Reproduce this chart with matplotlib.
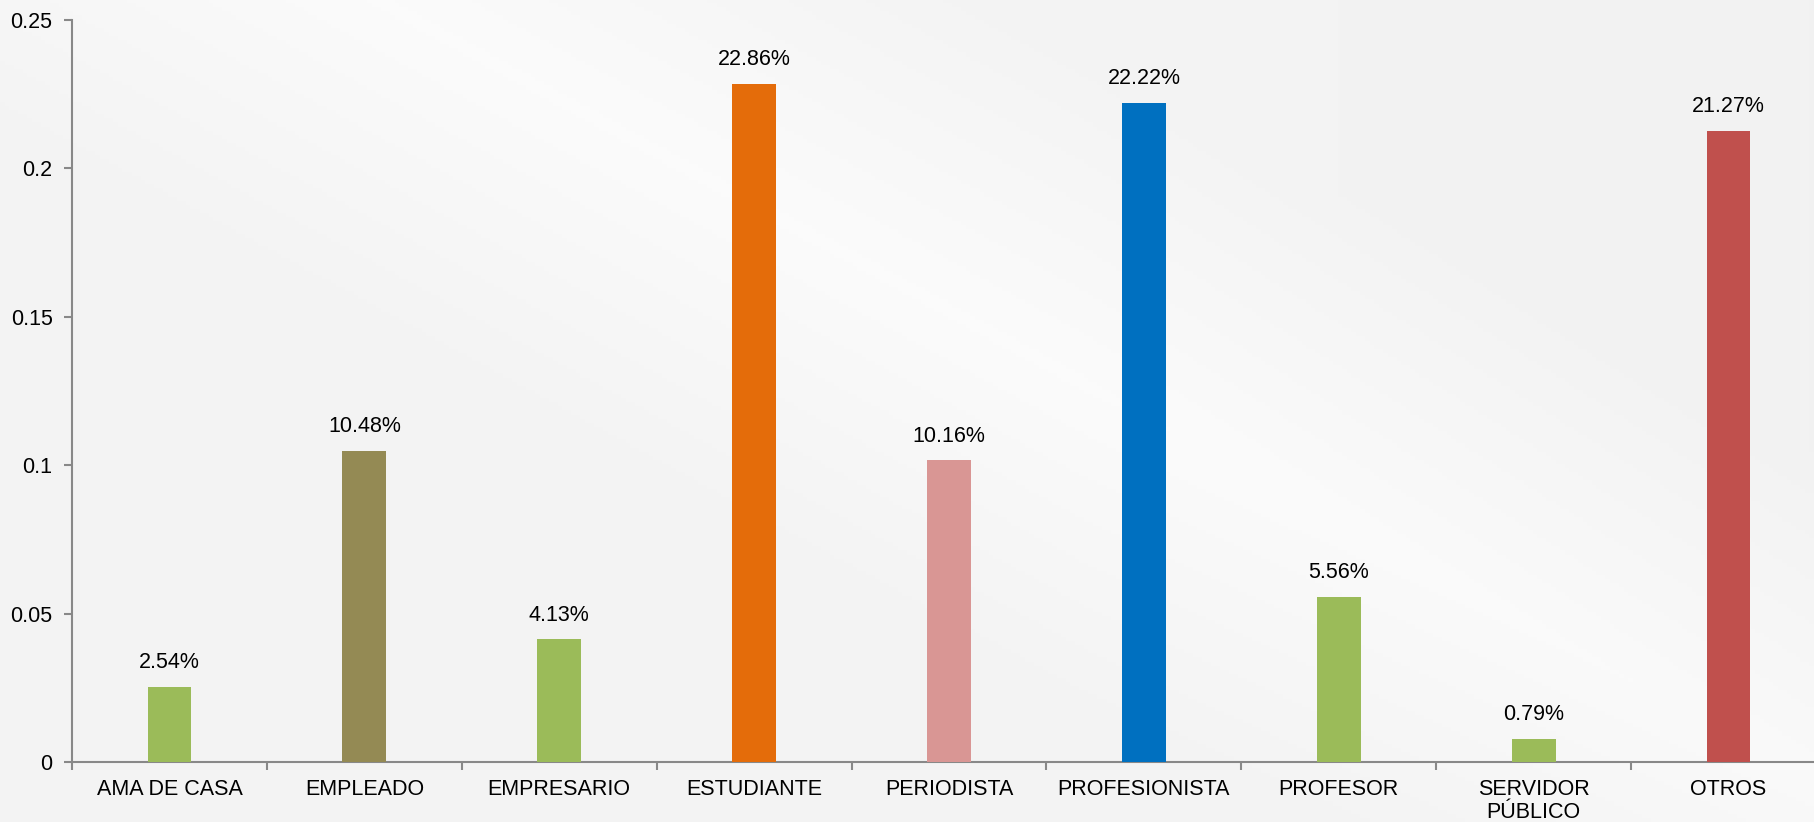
import numpy as np
import matplotlib
matplotlib.use("Agg")
import matplotlib.pyplot as plt
from matplotlib.ticker import FixedLocator, FixedFormatter

# data
categories = ["AMA DE CASA", "EMPLEADO", "EMPRESARIO", "ESTUDIANTE", "PERIODISTA",
              "PROFESIONISTA", "PROFESOR", "SERVIDOR\nPÚBLICO", "OTROS"]
values = [0.0254, 0.1048, 0.0413, 0.2286, 0.1016, 0.2222, 0.0556, 0.0079, 0.2127]
labels = ["2.54%", "10.48%", "4.13%", "22.86%", "10.16%", "22.22%", "5.56%", "0.79%", "21.27%"]
colors = ["#9BBB59", "#948A54", "#9BBB59", "#E46C0A", "#D99694",
          "#0070C0", "#9BBB59", "#9BBB59", "#C0504D"]
yticks = [0, 0.05, 0.1, 0.15, 0.2, 0.25]
ytick_labels = ["0", "0.05", "0.1", "0.15", "0.2", "0.25"]

plt.rcParams['font.family'] = ['Liberation Sans', 'DejaVu Sans']

W, H = 1814, 822
fig = plt.figure(figsize=(W / 100, H / 100), dpi=100)

# light gray background with soft diagonal gradient
bg = fig.add_axes([0, 0, 1, 1], zorder=-10)
yy, xx = np.mgrid[0:1:200j, 0:1:400j]
shade = 0.955 + 0.03 * np.clip(1 - np.abs((xx * 1.2 - yy) - 0.25) * 2.5, 0, 1) \
        - 0.015 * np.clip(xx - 0.6, 0, 1)
bg.imshow(np.dstack([shade] * 3), extent=[0, 1, 0, 1], aspect='auto')
bg.axis('off')

left, right = 72 / W, 1826 / W
bottom, top = 1 - 762 / H, 1 - 20 / H
ax = fig.add_axes([left, bottom, right - left, top - bottom])
ax.patch.set_alpha(0)

x = np.arange(len(categories))
ax.bar(x, values, width=0.225, color=colors, zorder=3)
for xi, v, lab in zip(x, values, labels):
    ax.annotate(lab, (xi, v), xytext=(0, 10), textcoords='offset points',
                ha='center', va='bottom', fontsize=15.5, color='black')

ax.set_xlim(-0.5, len(categories) - 0.5)
ax.set_ylim(0, 0.25)
ax.yaxis.set_major_locator(FixedLocator(yticks))
ax.yaxis.set_major_formatter(FixedFormatter(ytick_labels))
ax.tick_params(axis='y', length=6, width=1.5, color='#888888', labelsize=15.5, pad=8)

# category boundaries as major ticks, names as minor labels
ax.set_xticks(np.arange(len(categories) + 1) - 0.5)
ax.set_xticklabels([])
ax.set_xticks(x, minor=True)
ax.set_xticklabels(categories, minor=True, fontsize=15.5, linespacing=1.15)
ax.tick_params(axis='x', which='major', length=6, width=1.5, color='#888888')
ax.tick_params(axis='x', which='minor', length=0, pad=12)

for s in ['top', 'right']:
    ax.spines[s].set_visible(False)
for s in ['left', 'bottom']:
    ax.spines[s].set_color('#888888')
    ax.spines[s].set_linewidth(1.5)

fig.savefig("out.png", dpi=100)
